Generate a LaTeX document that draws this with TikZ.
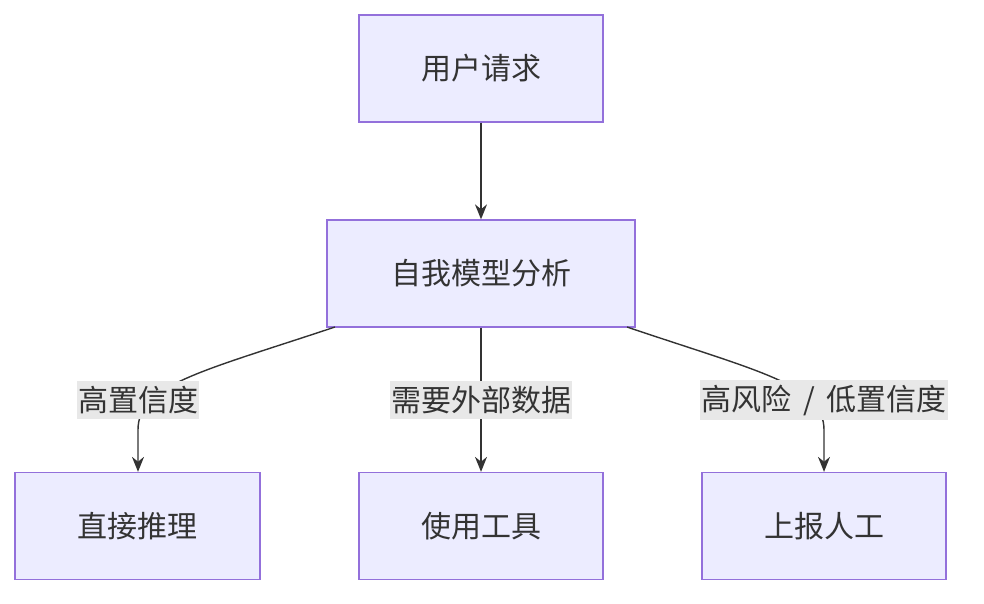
\documentclass[tikz,border=0pt]{standalone}
\usepackage{fontspec}
\setmainfont{Noto Sans CJK SC}
\usetikzlibrary{arrows.meta}
\definecolor{nfill}{HTML}{ECECFF}
\definecolor{nline}{HTML}{9370DB}
\definecolor{eline}{HTML}{333333}
\definecolor{lbg}{HTML}{E8E8E8}
\begin{document}
\begin{tikzpicture}[x=1pt,y=-1pt,
  box/.style={draw=nline,fill=nfill,line width=1.3pt,minimum height=107pt,text=eline,font=\fontsize{30}{36}\selectfont},
  lab/.style={fill=lbg,text=eline,inner xsep=1pt,inner ysep=5pt,font=\fontsize{30}{36}\selectfont},
  edge/.style={draw=eline,line width=1.4pt,-{Stealth[length=15pt,width=12pt]}}]
\useasboundingbox (0,0) rectangle (984,604);
\node[box,minimum width=244pt] (req) at (481,68.5) {用户请求};
\node[box,minimum width=308pt] (ana) at (481,273.5) {自我模型分析};
\node[box,minimum width=245pt] (dir) at (137.5,526) {直接推理};
\node[box,minimum width=244pt] (tool) at (481,526) {使用工具};
\node[box,minimum width=244pt] (hum) at (824,526) {上报人工};
\draw[edge] (req) -- (ana);
\coordinate (s1) at (335,327);
\coordinate (s3) at (627,327);
\draw[edge] (s1) .. controls (200,372) and (138,385) .. (138,430) -- (dir.north -| 138,0);
\draw[edge] (ana) -- (tool);
\draw[edge] (s3) .. controls (760,372) and (824,385) .. (824,430) -- (hum.north -| 824,0);
\node[lab] (l1) at (138,400) {高置信度};
\node[lab] (l2) at (481,400) {需要外部数据};
\node[lab] (l3) at (824,400) {高风险\,\ /\ \,低置信度};
\end{tikzpicture}
\end{document}
